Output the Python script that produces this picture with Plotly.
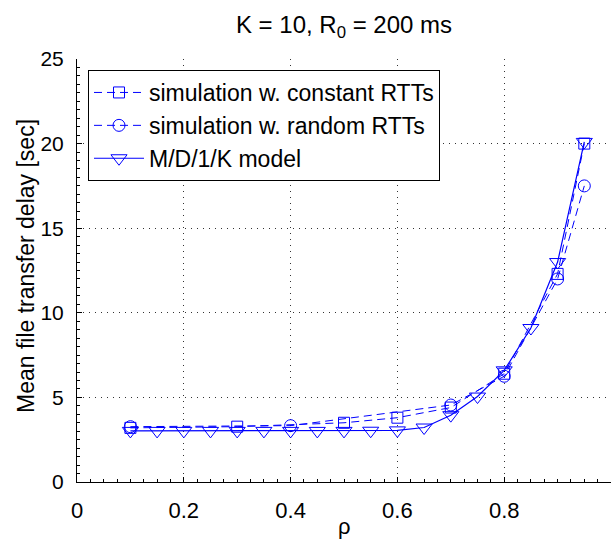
import plotly.graph_objects as go

# ---- data ----
rho_model = [0.1, 0.15, 0.2, 0.25, 0.3, 0.35, 0.4, 0.45, 0.5,
             0.55, 0.6, 0.65, 0.7, 0.75, 0.8, 0.85, 0.9, 0.95]
delay_model = [3.02, 3.02, 3.02, 3.02, 3.02, 3.02, 3.02, 3.02, 3.02,
               3.03, 3.05, 3.22, 3.95, 5.05, 6.6, 9.1, 13.0, 20.1]

rho_const = [0.1, 0.3, 0.5, 0.6, 0.7, 0.8, 0.9, 0.95]
delay_const = [3.2, 3.27, 3.5, 3.8, 4.4, 6.4, 12.3, 20.0]

rho_rand = [0.1, 0.4, 0.7, 0.8, 0.9, 0.95]
delay_rand = [3.27, 3.33, 4.55, 6.25, 12.0, 17.5]

names = ["simulation w. constant RTTs", "simulation w. random RTTs", "M/D/1/K model"]
x_ticks = [0, 0.2, 0.4, 0.6, 0.8, 1]
x_labels = ["0", "0.2", "0.4", "0.6", "0.8", "1"]
y_ticks = [0, 5, 10, 15, 20, 25]

FONT = "Liberation Sans, Arial, Helvetica, sans-serif"
BLUE = "#0000ff"
FS_TITLE = 24
FS_TICK = 21
FS_LEG = 23

fig = go.Figure()
fig.add_trace(go.Scatter(
    x=rho_const, y=delay_const, name=names[0], mode="lines+markers",
    line=dict(color=BLUE, width=1, dash="8px,5px"),
    marker=dict(symbol="square-open", size=11, color=BLUE, line=dict(width=1, color=BLUE))))
fig.add_trace(go.Scatter(
    x=rho_rand, y=delay_rand, name=names[1], mode="lines+markers",
    line=dict(color=BLUE, width=1, dash="8px,5px"),
    marker=dict(symbol="circle-open", size=12, color=BLUE, line=dict(width=1, color=BLUE))))
fig.add_trace(go.Scatter(
    x=rho_model, y=delay_model, name=names[2], mode="lines+markers",
    line=dict(color=BLUE, width=1.2),
    marker=dict(symbol="triangle-down-open", size=14, color=BLUE, line=dict(width=1, color=BLUE))))

L, R, T, B = 77, 2, 59, 57
W, H = 613, 539
pw = W - L - R
ph = H - T - B

fig.update_layout(
    width=W, height=H, autosize=False,
    margin=dict(l=L, r=R, t=T, b=B, pad=0),
    paper_bgcolor="white", plot_bgcolor="white",
    font=dict(family=FONT, size=FS_TICK, color="black"),
    showlegend=True,
    title=dict(text="K = 10, R<sub>0</sub> = 200 ms", x=(L + pw / 2) / W, xanchor="center",
               y=1 - 25 / H, yanchor="middle", yref="container",
               font=dict(family=FONT, size=FS_TITLE, color="black")),
    legend=dict(x=(88 - L) / pw, y=1 - (70 - T) / ph, xanchor="left", yanchor="top",
                bgcolor="white", bordercolor="black", borderwidth=1,
                font=dict(family=FONT, size=FS_LEG, color="black"),
                itemwidth=50, tracegroupgap=0),
    xaxis=dict(range=[0, 1], tickvals=x_ticks, ticktext=x_labels,
               showline=True, linecolor="black", linewidth=1, mirror=False,
               ticks="inside", ticklen=5, tickcolor="black",
               showgrid=True, gridcolor="#333333", gridwidth=1, griddash="1px,5px",
               zeroline=False, ticklabelstandoff=9,
               tickfont=dict(family=FONT, size=FS_TICK + 1, color="black"),
               minor=dict(dtick=0.025, ticks="inside", ticklen=3, tickcolor="black", showgrid=False),
               fixedrange=True),
    yaxis=dict(range=[0, 25], tickvals=y_ticks,
               showline=True, linecolor="black", linewidth=1, mirror=False,
               ticks="inside", ticklen=5, tickcolor="black",
               showgrid=True, gridcolor="#333333", gridwidth=1, griddash="1px,5px",
               zeroline=False, ticklabelstandoff=8,
               tickfont=dict(family=FONT, size=FS_TICK, color="black"),
               minor=dict(dtick=0.5, ticks="inside", ticklen=3, tickcolor="black", showgrid=False),
               fixedrange=True),
    annotations=[
        dict(text="Mean file transfer delay [sec]", xref="paper", yref="paper",
             x=(26 - L) / pw, y=(482 - 266) / ph, xanchor="center", yanchor="middle",
             textangle=-90, showarrow=False,
             font=dict(family=FONT, size=FS_TITLE - 1, color="black")),
        dict(text="ρ", xref="paper", yref="paper",
             x=0.5, y=-(526 - (T + ph)) / ph, xanchor="center", yanchor="middle",
             showarrow=False, font=dict(family=FONT, size=FS_TITLE - 2, color="black")),
    ],
)

fig.write_html("out.html")
